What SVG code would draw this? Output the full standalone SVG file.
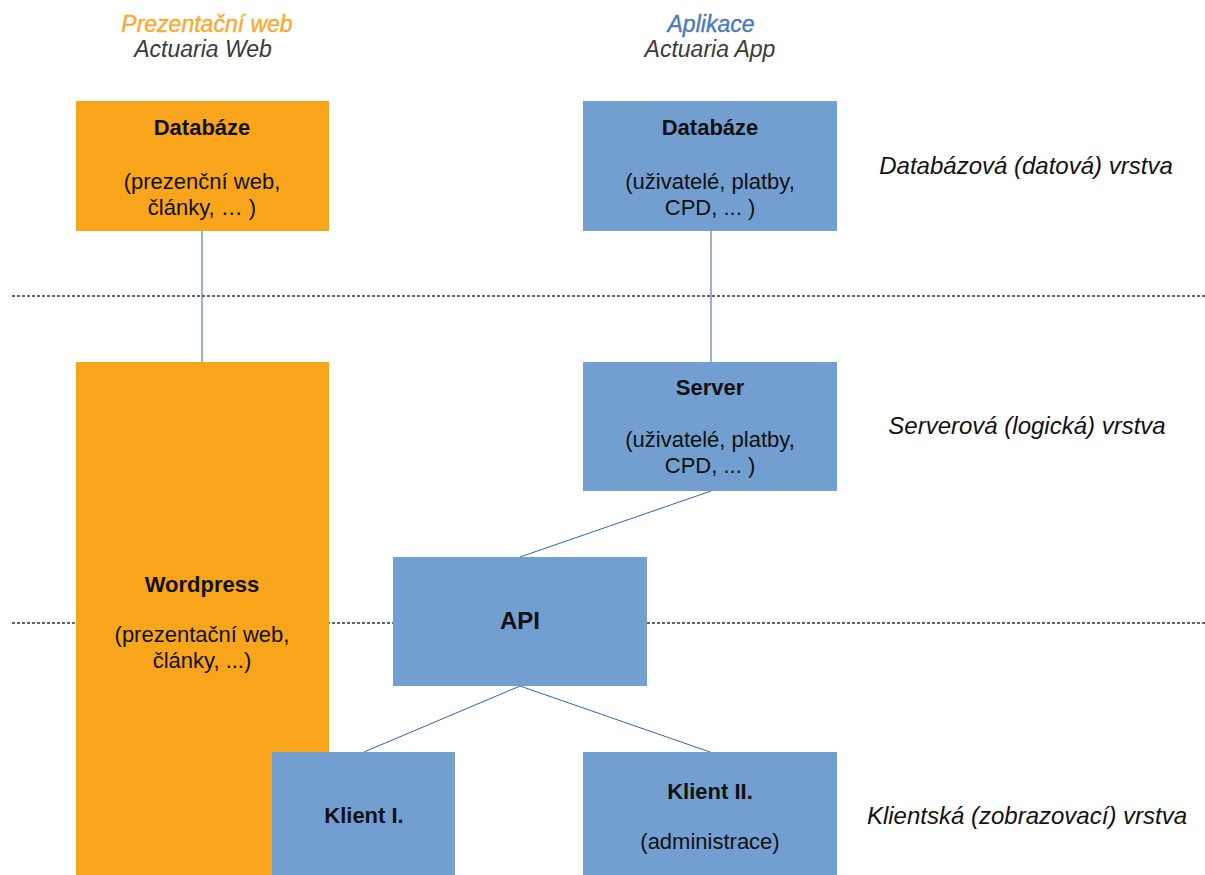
<svg xmlns="http://www.w3.org/2000/svg" width="1205" height="875" viewBox="0 0 1205 875">
<style>
.t{font-family:"Liberation Sans",Arial,sans-serif;text-anchor:middle;fill:#111}
.b{font-weight:bold}
.n{font-size:22px}
.i{font-style:italic;font-size:23px}
.l{font-style:italic;font-size:24px}
.or{fill:#F8A51C}
.bl{fill:#729FCF}
.sep{stroke:#333;stroke-width:1.3;stroke-dasharray:3 2;fill:none}
.con{stroke:#3465A4;stroke-width:1;fill:none}
</style>
<rect width="1205" height="875" fill="#fff"/>
<g id="separators">
<line class="sep" x1="12" y1="296" x2="1205" y2="296"/>
<line class="sep" x1="12" y1="623" x2="1205" y2="623"/>
</g>
<g id="headers">
<text class="t i" x="207" y="32" style="fill:#F8AA33;stroke:#F8AA33;stroke-width:0.4">Prezentační web</text>
<text class="t i" x="203" y="57" style="fill:#3a3a3a">Actuaria Web</text>
<text class="t i" x="711" y="32" style="fill:#4E79BD;stroke:#4E79BD;stroke-width:0.4">Aplikace</text>
<text class="t i" x="710" y="57" style="fill:#3a3a3a">Actuaria App</text>
</g>
<g id="layer-labels">
<text class="t l" x="1026" y="174">Databázová (datová) vrstva</text>
<text class="t l" x="1027" y="434">Serverová (logická) vrstva</text>
<text class="t l" x="1027" y="824">Klientská (zobrazovací) vrstva</text>
</g>
<g id="connectors">
<line class="con" x1="202" y1="231" x2="202" y2="362"/>
<line class="con" x1="711" y1="231" x2="711" y2="362"/>
<line class="con" x1="711" y1="491" x2="520" y2="557"/>
<line class="con" x1="520" y1="686" x2="364" y2="752"/>
<line class="con" x1="520" y1="686" x2="710" y2="752"/>
</g>
<g id="db-web">
<rect class="or" x="76" y="101" width="253" height="130"/>
<text class="t n b" x="202" y="135">Databáze</text>
<text class="t n" x="202" y="189">(prezenční web,</text>
<text class="t n" x="202" y="215">články, … )</text>
</g>
<g id="db-app">
<rect class="bl" x="583" y="101" width="254" height="130"/>
<text class="t n b" x="710" y="135">Databáze</text>
<text class="t n" x="710" y="189">(uživatelé, platby,</text>
<text class="t n" x="710" y="215">CPD, ... )</text>
</g>
<g id="wordpress">
<rect class="or" x="76" y="362" width="253" height="513"/>
<text class="t n b" x="202" y="592">Wordpress</text>
<text class="t n" x="202" y="642">(prezentační web,</text>
<text class="t n" x="202" y="668">články, ...)</text>
</g>
<g id="server">
<rect class="bl" x="583" y="362" width="254" height="129"/>
<text class="t n b" x="710" y="395">Server</text>
<text class="t n" x="710" y="447">(uživatelé, platby,</text>
<text class="t n" x="710" y="473">CPD, ... )</text>
</g>
<g id="api">
<rect class="bl" x="393" y="557" width="254" height="129"/>
<text class="t b" x="520" y="629" style="font-size:24px">API</text>
</g>
<g id="klient1">
<rect class="bl" x="272" y="752" width="183" height="123"/>
<text class="t n b" x="364" y="823">Klient I.</text>
</g>
<g id="klient2">
<rect class="bl" x="583" y="752" width="254" height="123"/>
<text class="t n b" x="710" y="799">Klient II.</text>
<text class="t n" x="710" y="849">(administrace)</text>
</g>
</svg>
